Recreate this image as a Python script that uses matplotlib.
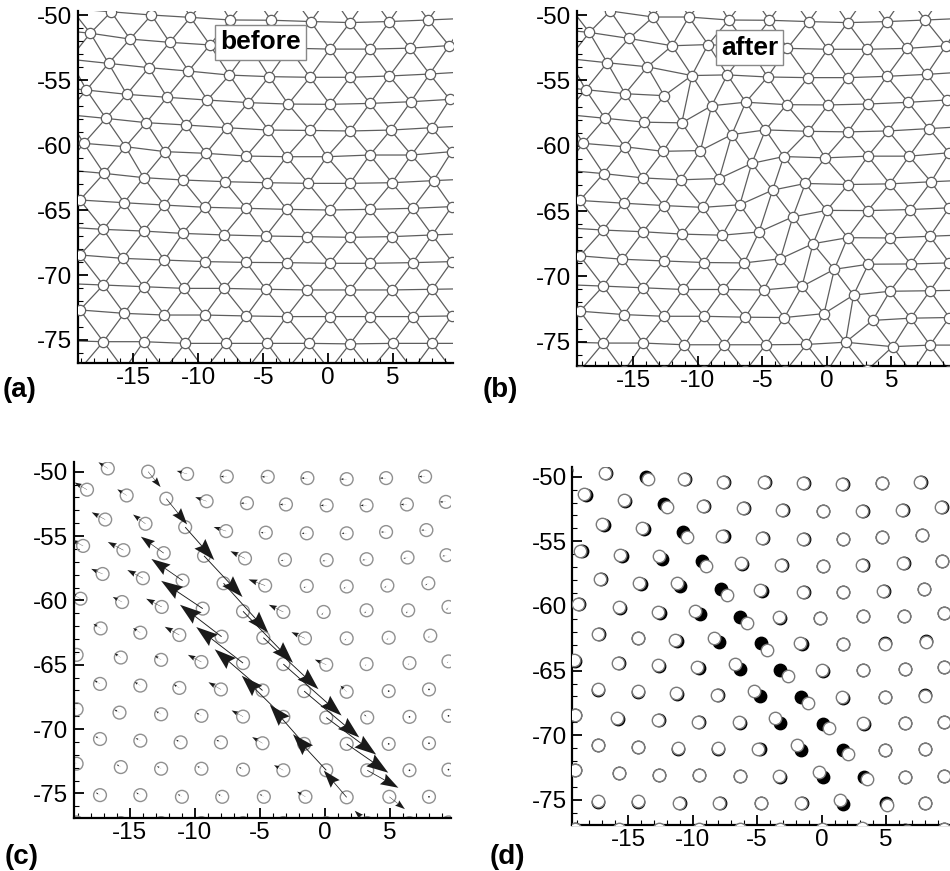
import numpy as np
import matplotlib
matplotlib.use('Agg')
import matplotlib.pyplot as plt
import matplotlib.tri as mtri
from matplotlib.ticker import MultipleLocator

plt.rcParams['font.family'] = ['Liberation Sans', 'DejaVu Sans']
plt.rcParams['axes.unicode_minus'] = False

# ---------------------------------------------------------------
# Lattice node positions before slip, one list per row (rows -1..13)
# ---------------------------------------------------------------
row_x = [
    [-21.0, -18.0, -15.0, -11.9, -8.9, -5.9, -2.9, 0.2, 3.2, 6.2, 9.2, 12.2],
    [-19.8, -16.7, -13.6, -10.6, -7.55, -4.4, -1.35, 1.67, 4.7, 7.7, 10.7],
    [-21.3, -18.3, -15.25, -12.2, -9.1, -6.0, -3.0, 0.13, 3.2, 6.3, 9.3, 12.3],
    [-19.9, -16.9, -13.8, -10.75, -7.6, -4.55, -1.4, 1.67, 4.7, 7.8, 10.9],
    [-21.7, -18.6, -15.5, -12.4, -9.3, -6.15, -3.08, 0.13, 3.2, 6.35, 9.35, 12.4],
    [-20.2, -17.1, -14.0, -10.95, -7.8, -4.6, -1.4, 1.67, 4.8, 7.95, 11.0],
    [-21.9, -18.8, -15.6, -12.55, -9.4, -6.3, -3.2, -0.1, 3.2, 6.4, 9.5, 12.6],
    [-20.4, -17.25, -14.2, -11.2, -7.95, -4.74, -1.54, 1.67, 4.9, 8.1, 11.2],
    [-22.2, -19.1, -15.7, -12.6, -9.5, -6.3, -3.2, 0.1, 3.2, 6.5, 9.5, 12.6],
    [-20.4, -17.3, -14.2, -11.2, -8.0, -4.8, -1.6, 1.67, 4.9, 8.0, 11.1],
    [-22.2, -19.1, -15.8, -12.6, -9.5, -6.3, -3.2, 0.1, 3.25, 6.5, 9.5, 12.6],
    [-20.4, -17.3, -14.2, -11.1, -8.0, -4.8, -1.6, 1.67, 4.9, 8.0, 11.1],
    [-22.2, -19.1, -15.7, -12.6, -9.5, -6.3, -3.2, 0.1, 3.25, 6.5, 9.5, 12.6],
    [-20.4, -17.3, -14.2, -11.0, -7.9, -4.7, -1.5, 1.67, 4.95, 8.0, 11.1],
    [-22.2, -19.1, -15.7, -12.6, -9.5, -6.3, -3.2, 0.1, 3.25, 6.5, 9.5, 12.6],
]
row_y = [
    [-47.1, -47.4, -47.7, -47.9, -48.1, -48.25, -48.35, -48.4, -48.4, -48.35, -48.25, -48.1],
    [-49.5, -49.75, -50.0, -50.18, -50.38, -50.4, -50.5, -50.58, -50.5, -50.38, -50.25],
    [-51.1, -51.4, -51.85, -52.1, -52.3, -52.45, -52.55, -52.62, -52.62, -52.55, -52.35, -52.15],
    [-53.4, -53.72, -54.05, -54.31, -54.62, -54.74, -54.79, -54.79, -54.69, -54.54, -54.35],
    [-55.45, -55.77, -56.1, -56.33, -56.54, -56.74, -56.85, -56.87, -56.8, -56.67, -56.49, -56.3],
    [-57.65, -57.95, -58.28, -58.46, -58.67, -58.85, -58.88, -58.92, -58.85, -58.67, -58.5],
    [-59.6, -59.87, -60.13, -60.51, -60.64, -60.85, -60.9, -60.9, -60.77, -60.77, -60.51, -60.3],
    [-61.9, -62.18, -62.51, -62.69, -62.82, -62.9, -62.95, -62.95, -62.9, -62.74, -62.6],
    [-64.0, -64.23, -64.44, -64.62, -64.79, -64.87, -64.95, -65.0, -64.95, -64.87, -64.74, -64.6],
    [-66.3, -66.49, -66.62, -66.8, -66.92, -67.0, -67.05, -67.1, -67.05, -66.92, -66.8],
    [-68.3, -68.46, -68.72, -68.85, -68.97, -69.03, -69.05, -69.1, -69.1, -69.05, -68.97, -68.9],
    [-70.65, -70.77, -70.9, -71.03, -71.03, -71.1, -71.15, -71.15, -71.15, -71.1, -71.05],
    [-72.5, -72.69, -72.95, -73.08, -73.08, -73.15, -73.2, -73.2, -73.2, -73.2, -73.15, -73.1],
    [-75.05, -75.13, -75.13, -75.26, -75.26, -75.26, -75.26, -75.3, -75.26, -75.26, -75.26],
    [-77.2, -77.25, -77.3, -77.3, -77.3, -77.3, -77.3, -77.3, -77.3, -77.3, -77.25, -77.2],
]

# x of the slipping lattice line (upper band) in each row
upper_band_x = [-15.0, -13.6, -12.2, -10.75, -9.3, -7.8, -6.3, -4.74,
                -3.2, -1.6, 0.1, 1.67, 3.25, 4.95, 6.5]

# displacement (after - before) per row, by column offset from the slip line
upper_dx = [0.06, 0.12, 0.2, 0.28, 0.37, 0.43, 0.48, 0.53, 0.56, 0.53, 0.48, 0.4, 0.3, 0.15, 0.08]
upper_dy = [-0.08, -0.15, -0.25, -0.32, -0.4, -0.48, -0.5, -0.5, -0.5, -0.45, -0.36, -0.28, -0.17, -0.12, -0.08]
lower_dx = [-0.08, -0.09, -0.09, -0.12, -0.22, -0.3, -0.4, -0.4, -0.45, -0.46, -0.4, -0.33, -0.32, -0.22, -0.12]
lower_dy = [0.05, 0.06, 0.06, 0.09, 0.16, 0.21, 0.27, 0.31, 0.35, 0.4, 0.4, 0.38, 0.35, 0.26, 0.12]
near_dx = [-0.08, -0.1, -0.11, -0.12, -0.14, -0.16, -0.14, -0.13, -0.11, -0.06, -0.03, -0.01, 0.0, 0.0, 0.0]
near_dy = [0.02, 0.03, 0.04, 0.04, 0.07, 0.06, 0.07, 0.06, 0.05, 0.06, 0.03, 0.01, 0.0, 0.0, 0.0]
right_dx = [-0.06, -0.06, -0.06, -0.05, -0.04, -0.03, -0.02, -0.02, -0.015, -0.01, 0.0, 0.0, 0.0, 0.0, 0.0]
right_dy = [0.0, 0.0, 0.0, 0.0, -0.01, -0.02, -0.03, -0.02, -0.015, -0.01, 0.0, 0.0, 0.0, 0.0, 0.0]
lnear_dx = [-0.09, -0.1, -0.12, -0.13, -0.15, -0.15, -0.15, -0.14, -0.13, -0.12, -0.11, -0.1, -0.09, -0.08, -0.07]
lnear_dy = [0.06, 0.06, 0.07, 0.07, 0.08, 0.08, 0.08, 0.08, 0.07, 0.07, 0.06, 0.06, 0.05, 0.05, 0.04]
left_dx = [-0.09, -0.1, -0.1, -0.11, -0.11, -0.11, -0.09, -0.07, -0.06, -0.055, -0.05, -0.045, -0.04, -0.04, -0.04]
left_dy = [0.06, 0.06, 0.06, 0.065, 0.06, 0.05, 0.05, 0.045, 0.04, 0.035, 0.03, 0.025, 0.025, 0.025, 0.025]

y_ticks = [-75, -70, -65, -60, -55, -50]
x_ticks = [-15, -10, -5, 0, 5]


def build_nodes():
    xb, yb, ux, uy = [], [], [], []
    for r, (xs, ys) in enumerate(zip(row_x, row_y)):
        xs = np.array(xs)
        j0 = int(np.argmin(np.abs(xs - upper_band_x[r])))
        for j, (x, y) in enumerate(zip(xs, ys)):
            d = j - j0
            if d == 0:
                u, v = upper_dx[r], upper_dy[r]
            elif d == -1:
                u, v = lower_dx[r], lower_dy[r]
            elif d == 1:
                u, v = near_dx[r], near_dy[r]
            elif d >= 2:
                u, v = right_dx[r], right_dy[r]
            elif d == -2:
                u, v = lnear_dx[r], lnear_dy[r]
            else:
                u, v = left_dx[r], left_dy[r]
            xb.append(x); yb.append(y); ux.append(u); uy.append(v)
    return np.array(xb), np.array(yb), np.array(ux), np.array(uy)


xb, yb, ux, uy = build_nodes()
xa, ya = xb + ux, yb + uy

W, H = 950, 871
fig = plt.figure(figsize=(W / 100, H / 100), dpi=100)


def px_axes(left, top, right, bottom):
    return fig.add_axes([left / W, 1 - bottom / H, (right - left) / W, (bottom - top) / H])


def style(ax, xlim, ylim):
    ax.set_xlim(*xlim)
    ax.set_ylim(*ylim)
    for s in ['top', 'right']:
        ax.spines[s].set_visible(False)
    for s in ['left', 'bottom']:
        ax.spines[s].set_linewidth(1.6)
    ax.set_xticks(x_ticks)
    ax.set_yticks(y_ticks)
    ax.xaxis.set_minor_locator(MultipleLocator(1))
    ax.yaxis.set_minor_locator(MultipleLocator(1))
    ax.tick_params(which='major', direction='in', length=7.5, width=1.3,
                   labelsize=17.5, pad=3)
    ax.tick_params(which='minor', direction='in', length=3.5, width=0.8)
    ax.tick_params(axis='y', pad=4)


line_c = '#5e5e5e'

# (a) before
ax_a = px_axes(78, 11, 453, 363)
tri_b = mtri.Triangulation(xb, yb)
ax_a.triplot(tri_b, color=line_c, lw=0.9)
ax_a.scatter(xb, yb, s=55, facecolor='white', edgecolor=line_c, lw=0.9, zorder=3)
ax_a.text(-5.2, -52.1, 'before', ha='center', va='center', fontsize=19,
          fontweight='bold', zorder=5,
          bbox=dict(boxstyle='square,pad=0.2', fc='white', ec='#888888', lw=1))
style(ax_a, (-19.25, 9.6), (-76.77, -49.69))

# (b) after
ax_b = px_axes(576.7, 11, 950, 366)
tri_a = mtri.Triangulation(xa, ya)
ax_b.triplot(tri_a, color=line_c, lw=0.9)
ax_b.scatter(xa, ya, s=55, facecolor='white', edgecolor=line_c, lw=0.9, zorder=3)
ax_b.text(-6.0, -52.5, 'after', ha='center', va='center', fontsize=19,
          fontweight='bold', zorder=5,
          bbox=dict(boxstyle='square,pad=0.2', fc='white', ec='#888888', lw=1))
style(ax_b, (-19.4, 9.55), (-76.86, -49.69))

# (c) displacement vectors
ax_c = px_axes(74, 462, 450.7, 818.3)
ax_c.scatter(xb, yb, s=85, facecolor='none', edgecolor='#909090', lw=1.0, zorder=2)
ax_c.quiver(xb, yb, ux, uy, angles='xy', scale_units='xy', scale=0.125,
            units='xy', width=0.07, headwidth=16, headlength=24,
            headaxislength=21, minshaft=2.0, minlength=2,
            color='#1a1a1a', zorder=3)
style(ax_c, (-19.3, 9.67), (-76.93, -49.25))

# (d) before (black) and after (white) positions
ax_d = px_axes(572.3, 467, 950, 825)
ax_d.scatter(xb, yb, s=80, facecolor='black', edgecolor='black', lw=1.0, zorder=2)
ax_d.scatter(xa, ya, s=80, facecolor='white', edgecolor='#7a7a7a', lw=1.0, zorder=3)
style(ax_d, (-19.33, 9.95), (-76.94, -49.25))

for lab, xp, yp in [('(a)', 3, 390), ('(b)', 483, 390), ('(c)', 5, 857), ('(d)', 490, 857)]:
    fig.text(xp / W, 1 - yp / H, lab, fontsize=20, fontweight='bold',
             ha='left', va='center')

fig.savefig('out.png', dpi=100)
